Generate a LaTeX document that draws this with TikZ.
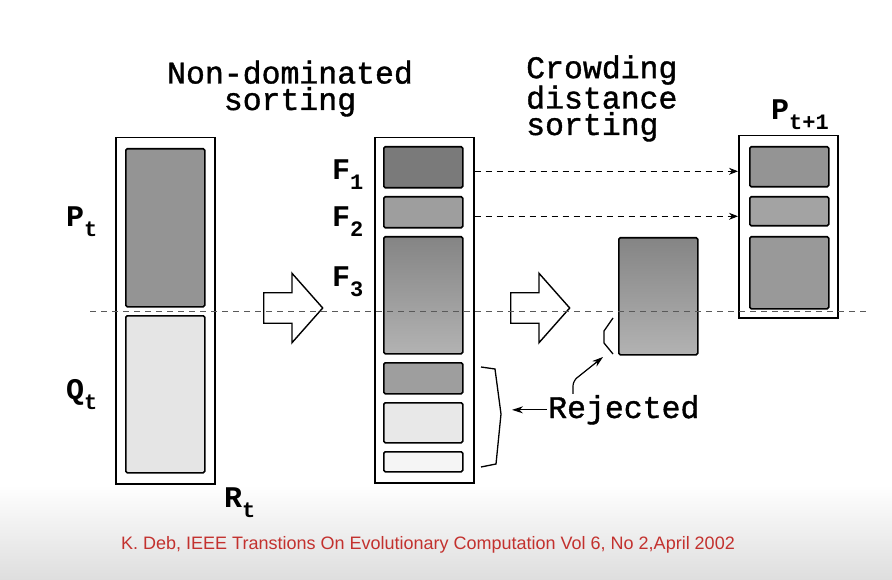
\documentclass[tikz,border=0pt]{standalone}
\usepackage{fontspec}
\setmainfont{Liberation Sans}
\setmonofont{Liberation Mono}
\newfontfamily\headfont{Liberation Mono}[FakeBold=1.2]
\usepackage{tikz}
\usetikzlibrary{positioning,arrows.meta,calc,shapes.arrows}
\definecolor{citered}{HTML}{C3312E}
\newcommand{\dsub}[1]{\raisebox{-10pt}{\fontsize{22}{22}\selectfont #1}}
\tikzset{
  popbox/.style={draw, line width=1.5pt, anchor=north west, inner sep=0pt, minimum width=99pt},
  frontbox/.style={draw, line width=1.6pt, rounded corners=1.5pt, anchor=north west,
    inner sep=0pt, minimum width=79pt},
  bigarrow/.style={single arrow, draw, line width=1.4pt, anchor=tail, inner xsep=0pt,
    inner ysep=14.5pt, minimum height=59pt, single arrow head extend=19.5pt,
    single arrow tip angle=97},
  headtext/.style={font=\headfont\fontsize{31.5}{26.5}\selectfont, inner sep=1pt},
  poplabel/.style={font=\ttfamily\bfseries\fontsize{30}{30}\selectfont, inner sep=1pt,
    anchor=base west},
  cutline/.style={dash pattern=on 6pt off 5pt, line width=0.8pt, black!65},
  passarrow/.style={dash pattern=on 6pt off 5pt, line width=0.9pt,
    -{Stealth[length=9pt,width=7pt]}},
  rejarrow/.style={line width=1.2pt, -{Stealth[length=11pt,width=7pt]}},
  bracket/.style={line width=1.3pt},
}

\begin{document}
\begin{tikzpicture}[x=1pt, y=-1pt]
  \useasboundingbox (0,0) rectangle (892,580);
  \fill[white] (0,0) rectangle (892,580);
  \shade[top color=white, bottom color=black!13] (0,485) rectangle (892,580);
  % 見出し
  \node[headtext, anchor=base, align=center] (nds) at (290,110) {Non-dominated\\sorting};
  \node[headtext, anchor=base west, align=left] (cds) at (525,135) {Crowding\\distance\\sorting};
  % R_t
  \node[popbox, minimum height=346pt] (rt) at (115,137) {};
  \node[frontbox, fill=black!42, minimum height=158pt] (pt) at (125,148) {};
  \node[frontbox, fill=black!10, minimum height=157pt] (qt) at (125,315) {};
  % 非優越ソート後
  \node[popbox, minimum height=345pt] (mid) at (374,137) {};
  \foreach \n/\ya/\yb/\c in {f1/146/187/52, f2/196/227/38, r1/362/393/38, r2/402/442/9, r3/451/471/4}
    \node[frontbox, fill=black!\c, minimum height={(\yb-\ya)*1pt}] (\n) at (383,\ya) {};
  \node[frontbox, top color=black!48, bottom color=black!30, minimum height=117pt] (f3) at (383,236) {};
  % 混雑度ソート
  \node[frontbox, top color=black!48, bottom color=black!30, minimum height=117pt] (f3s) at (618,237) {};
  % P_{t+1}
  \node[popbox, minimum height=182pt] (pt1) at (738,135) {};
  \foreach \n/\ya/\yb/\c in {n1/146/186/42, n2/196/225/36, n3/236/308/40}
    \node[frontbox, fill=black!\c, minimum height={(\yb-\ya)*1pt}] (\n) at (749,\ya) {};
  % 矢印
  \node[bigarrow] (ar1) at (263,308) {};
  \node[bigarrow] (ar2) at (510,308) {};
  % ラベル
  \node[poplabel] (lp) at (65,227) {P\dsub{t}};
  \node[poplabel] (lq) at (65,399) {Q\dsub{t}};
  \node[poplabel] (lr) at (223,507) {R\dsub{t}};
  \node[poplabel] (lf1) at (331,180) {F\dsub{1}};
  \node[poplabel] (lf2) at (331,227) {F\dsub{2}};
  \node[poplabel] (lf3) at (331,287) {F\dsub{3}};
  \node[poplabel] (lp1) at (770,120) {P\dsub{t+1}};
  % F1, F2 はそのまま
  \path (f1.east) ++(0,4) coordinate (a1);
  \path (f2.east) ++(0,4) coordinate (a2);
  \foreach \a in {a1,a2} \draw[passarrow] (\a -| mid.east) -- (\a -| pt1.west);
  % 境界線
  \coordinate (cutl) at (90,311);
  \coordinate (cutr) at (870,311);
  \draw[cutline] (cutl) -- (cutr);
  % 棄却
  \draw[bracket] (481,367) -- (495,369) -- (501,414) coordinate (brtip) -- (496,464) -- (481,467);
  \draw[bracket] (613,318) -- (604,331) -- (604,343) -- (613,354);
  \coordinate (cuttip) at (603,357);
  \coordinate (rejtip) at (512,411);
  \node[headtext, anchor=base west] (rej) at (547,418) {Rejected};
  \draw[rejarrow] (rej.west) -- (rej.west -| rejtip);
  \draw[rejarrow, rounded corners=5pt] ([xshift=26pt]rej.north west) -- ++(0,-13) -- (cuttip);
  % 出典
  \node[font=\fontsize{18}{18}\selectfont, text=citered, anchor=base west, inner sep=0pt] (cite)
    at (121,549) {K. Deb, IEEE Transtions On Evolutionary Computation Vol 6, No 2,April 2002};
\end{tikzpicture}
\end{document}
